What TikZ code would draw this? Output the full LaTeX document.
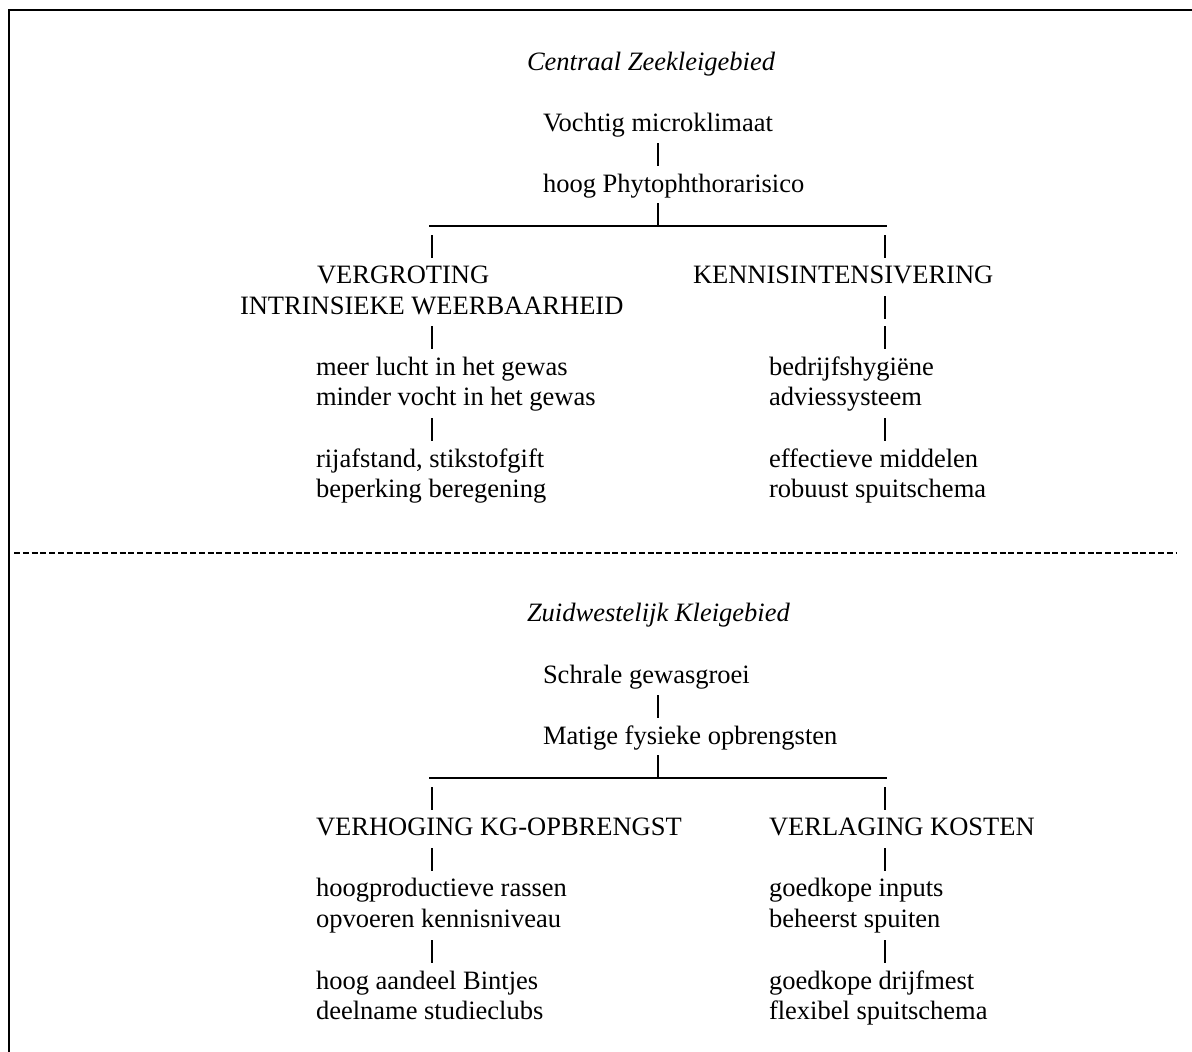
\documentclass[tikz,border=0pt]{standalone}
\usepackage{fontspec}
\setmainfont{Liberation Serif}
\newcommand\pipeseg[3]{%
  \coordinate (#1-top) at (#2,#3-18);
  \coordinate (#1-bot) at (#2,#3+5);
  \draw[barline] (#1-top) -- (#1-bot);}
\begin{document}
\begin{tikzpicture}[x=1pt,y=-1pt,
  txt/.style={anchor=base west,inner sep=0pt,outer sep=0pt,font=\fontsize{26.5}{30.5}\selectfont},
  ital/.style={anchor=base west,inner sep=0pt,outer sep=0pt,font=\fontsize{26.5}{30.5}\selectfont\itshape},
  barline/.style={line width=1.1pt},
  rulerline/.style={line width=1.4pt},
  frameline/.style={line width=2.2pt},
  sepline/.style={line width=2pt,dash pattern=on 6pt off 2.8pt},
]
\useasboundingbox (0,0) rectangle (1192,1052);
% frame
\coordinate (fr-tl) at (9,10);
\coordinate (fr-tr) at (1192,10);
\coordinate (fr-bl) at (9,1052);
\draw[frameline] (fr-tr) -- (fr-tl) -- (fr-bl);
% separator
\coordinate (sep-l) at (14,553);
\coordinate (sep-r) at (1176,553);
\draw[sepline] (sep-l) -- (sep-r);

% ---------------- top section
\node[ital] (a0) at (527,70) {Centraal Zeekleigebied};
\node[txt] (a1) at (543,131) {Vochtig microklimaat};
\pipeseg{ap1}{658}{161}
\node[txt] (a2) at (543,192) {hoog Phytophthorarisico};
\coordinate (au-l) at (429,226);
\coordinate (au-r) at (887,226);
\draw[rulerline] (au-l) -- (au-r);
\coordinate (au-t) at (658,203);
\coordinate (au-b) at (658,227);
\draw[barline] (au-t) -- (au-b);
\pipeseg{ap2}{432}{253}
\pipeseg{ap3}{885}{253}
\node[txt] (aL1) at (317,283) {VERGROTING};
\node[txt] (aL2) at (240,314) {INTRINSIEKE WEERBAARHEID};
\pipeseg{ap4}{432}{344}
\node[txt] (aL3) at (316,375) {meer lucht in het gewas};
\node[txt] (aL4) at (316,405.5) {minder vocht in het gewas};
\pipeseg{ap5}{432}{436}
\node[txt] (aL5) at (316,467) {rijafstand, stikstofgift};
\node[txt] (aL6) at (316,497.5) {beperking beregening};
\node[txt] (aR1) at (693,283) {KENNISINTENSIVERING};
\pipeseg{ap6}{885}{314}
\pipeseg{ap7}{885}{344}
\node[txt] (aR3) at (769,375) {bedrijfshygiëne};
\node[txt] (aR4) at (769,405.5) {adviessysteem};
\pipeseg{ap8}{885}{436}
\node[txt] (aR5) at (769,467) {effectieve middelen};
\node[txt] (aR6) at (769,497.5) {robuust spuitschema};

% ---------------- bottom section
\node[ital] (b0) at (527,621) {Zuidwestelijk Kleigebied};
\node[txt] (b1) at (543,683) {Schrale gewasgroei};
\pipeseg{bp1}{658}{713}
\node[txt] (b2) at (543,744) {Matige fysieke opbrengsten};
\coordinate (bu-l) at (429,778);
\coordinate (bu-r) at (887,778);
\draw[rulerline] (bu-l) -- (bu-r);
\coordinate (bu-t) at (658,755);
\coordinate (bu-b) at (658,779);
\draw[barline] (bu-t) -- (bu-b);
\pipeseg{bp2}{432}{805}
\pipeseg{bp3}{885}{805}
\node[txt] (bL1) at (316,835) {VERHOGING KG-OPBRENGST};
\pipeseg{bp4}{432}{866}
\node[txt] (bL3) at (316,896) {hoogproductieve rassen};
\node[txt] (bL4) at (316,927) {opvoeren kennisniveau};
\pipeseg{bp5}{432}{958}
\node[txt] (bL5) at (316,989) {hoog aandeel Bintjes};
\node[txt] (bL6) at (316,1019) {deelname studieclubs};
\node[txt] (bR1) at (769,835) {VERLAGING KOSTEN};
\pipeseg{bp6}{885}{866}
\node[txt] (bR3) at (769,896) {goedkope inputs};
\node[txt] (bR4) at (769,927) {beheerst spuiten};
\pipeseg{bp7}{885}{958}
\node[txt] (bR5) at (769,989) {goedkope drijfmest};
\node[txt] (bR6) at (769,1019) {flexibel spuitschema};
\end{tikzpicture}
\end{document}
